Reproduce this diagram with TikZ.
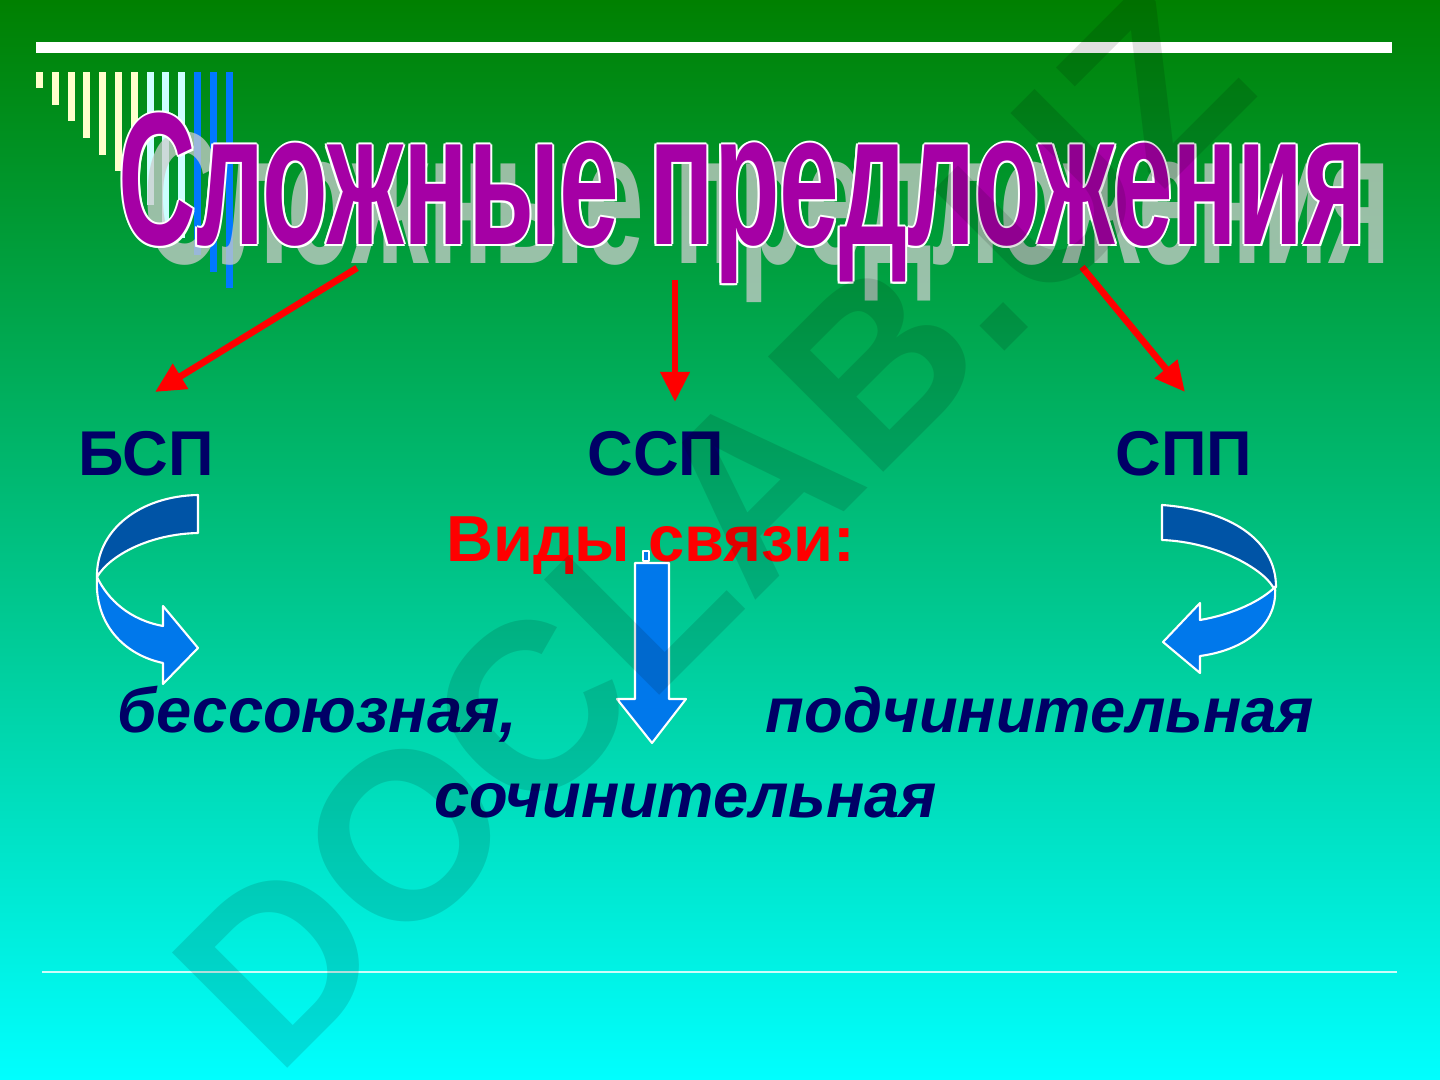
\documentclass[tikz,border=0pt]{standalone}
\usepackage{graphicx}
\usepackage{fontspec}
\setmainfont{Liberation Sans}
\usetikzlibrary{arrows.meta}

\definecolor{bgtop}{RGB}{0,128,0}
\definecolor{bgmid}{RGB}{0,192,128}
\definecolor{bgbot}{RGB}{0,255,255}
\definecolor{stripeY}{RGB}{255,255,204}
\definecolor{stripeC}{RGB}{204,255,255}
\definecolor{stripeB}{RGB}{0,120,255}
\definecolor{titlepurple}{RGB}{165,0,165}
\definecolor{shadowgray}{RGB}{205,205,205}
\definecolor{navytext}{RGB}{0,0,102}
\definecolor{arrowdark}{RGB}{0,84,166}
\definecolor{arrowlight}{RGB}{0,120,235}

\tikzset{
  lbl/.style={inner sep=0, text=navytext, font=\fontsize{18}{20}\selectfont\bfseries},
  kind/.style={inner sep=0, text=navytext, font=\fontsize{18}{20}\selectfont\bfseries\itshape},
  redarrow/.style={draw=red, line width=1.9pt, -{Triangle[length=0.3cm,width=0.28cm]}},
  band/.style={draw=white, line width=0.6pt, line join=round},
}

\newcommand{\titletext}{\resizebox{12.47cm}{\height}{\fontsize{53.6}{60}\selectfont\bfseries Сложные предложения}}

\begin{document}
\begin{tikzpicture}[x=0.01cm,y=-0.01cm]
    % Background
    \useasboundingbox (0,0) rectangle (1440,1080);
    \shade[top color=bgtop, bottom color=bgbot, middle color=bgmid] (0,0) rectangle (1440,1080);
    
    % Top rule and stripes
    \fill[white] (36,42) rectangle (1392,53);
    \foreach \i/\c in {0/stripeY,1/stripeY,2/stripeY,3/stripeY,4/stripeY,5/stripeY,6/stripeY,
                       7/stripeC,8/stripeC,9/stripeC,10/stripeB,11/stripeB,12/stripeB}
        \fill[\c] ({36+15.8*\i},72) rectangle ({43+15.8*\i},{88+16.7*\i});
    
    % Title with shadow and white outline
    \node[anchor=base west, inner sep=0, text=shadowgray, text opacity=0.75] (shadow) at (143,264) {\titletext};
    \foreach \dx/\dy in {-2/0,2/0,0/-2,0/2,-1.4/-1.4,1.4/-1.4,-1.4/1.4,1.4/1.4}
        \node[anchor=base west, inner sep=0, text=white] at ({118+\dx},{245+\dy}) {\titletext};
    \node[anchor=base west, inner sep=0, text=titlepurple] (title) at (118,245) {\titletext};
    
    % Kinds of sentences
    \node[lbl, anchor=base] (bsp) at (146,476) {БСП};
    \node[lbl, anchor=base] (ssp) at (656,476) {ССП};
    \node[lbl, anchor=base] (spp) at (1184,476) {СПП};
    
    % Red arrows
    \coordinate (fromL) at (357,268);
    \coordinate (fromM) at (675,280);
    \coordinate (fromR) at (1082,267);
    \coordinate (toL) at (155,392);
    \coordinate (toM) at (675,402);
    \coordinate (toR) at (1185,392);
    \draw[redarrow] (fromL) -- (toL);
    \draw[redarrow] (fromM) -- (toM);
    \draw[redarrow] (fromR) -- (toR);
    
    % Kinds of connection
    \node[anchor=base, inner sep=0, text=red, font=\fontsize{18.5}{21}\selectfont\bfseries] (kinds) at (651,562) {Виды связи:};
    \node[kind, anchor=base west] (bess) at (117,732) {бессоюзная,};
    \node[kind, anchor=base west] (podch) at (765,732) {подчинительная};
    \node[kind, anchor=base west] (soch) at (434,817) {сочинительная};
    
    % Curved arrow left
    \filldraw[band, fill=arrowdark] (198,495) -- (198,533) .. controls (150,534) and (110,555) .. (97,577)
        .. controls (96,530) and (140,496) .. (198,495) -- cycle;
    \filldraw[band, fill=arrowlight] (97,577) .. controls (94,625) and (125,655) .. (163,663) -- (163,684)
        -- (198,648) -- (163,606) -- (163,626) .. controls (130,620) and (108,600) .. (97,577) -- cycle;
    
    % Curved arrow right
    \filldraw[band, fill=arrowdark] (1162,505) .. controls (1230,510) and (1276,540) .. (1276,587) -- (1273,587)
        .. controls (1262,568) and (1215,542) .. (1162,540) -- cycle;
    \filldraw[band, fill=arrowlight] (1275,587) .. controls (1278,625) and (1245,650) .. (1200,656) -- (1200,673)
        -- (1163,642) -- (1200,603) -- (1200,620) .. controls (1235,614) and (1262,600) .. (1275,587) -- cycle;
    
    % Down arrow
    \filldraw[band, fill=arrowlight] (643,551) rectangle (649,561);
    \filldraw[band, fill=arrowlight] (635,563) -- (669,563) -- (669,699) -- (686,699) -- (652,743)
        -- (617,699) -- (635,699) -- cycle;
    
    % Bottom rule
    \draw[white, opacity=0.8, line width=0.6pt] (42,972) -- (1397,972);
    
    % Watermark
    \node[rotate=45, inner sep=0, text=black, text opacity=0.12, font=\fontsize{67.4}{70}\selectfont\bfseries] (mark) at (712,528) {DOCLAB.UZ};
\end{tikzpicture}
\end{document}
